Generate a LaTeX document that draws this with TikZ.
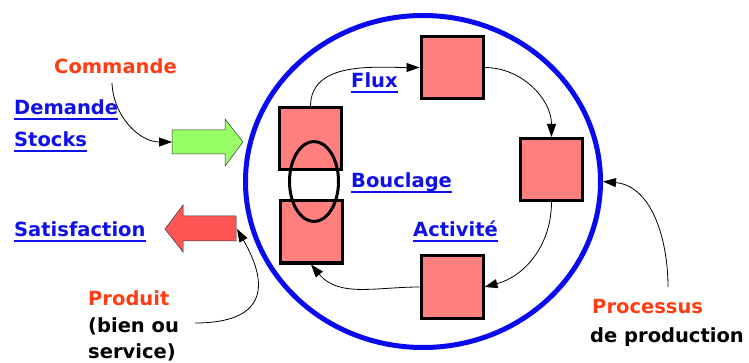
\documentclass[tikz,border=0pt]{standalone}
\usepackage{fontspec}
\setmainfont{DejaVu Sans}
\usetikzlibrary{arrows.meta,shapes.geometric}
\definecolor{ringblue}{HTML}{0A0AF0}
\definecolor{linkblue}{HTML}{1010E8}
\definecolor{hot}{HTML}{FF3D14}
\definecolor{boxfill}{HTML}{FF7F7F}
\definecolor{ingreen}{HTML}{99FF66}
\definecolor{outred}{HTML}{FF5555}
\begin{document}
\begin{tikzpicture}[x=1pt,y=1pt,
  lab/.style={inner sep=0pt, anchor=base west, font=\bfseries\fontsize{19.5}{22}\selectfont},
  link/.style={lab, text=linkblue},
  hotlab/.style={lab, text=hot},
  ul/.style={draw=linkblue, line width=2.2pt},
  unit/.style={draw=black, line width=3pt, fill=boxfill, minimum width=62pt, minimum height=62pt, inner sep=0pt},
  conn/.style={draw=black, line width=0.8pt, -{Triangle[length=13pt,width=9pt]}},
  blockarrow/.style={draw=black!80, line width=0.5pt}
]
\useasboundingbox (0,0) rectangle (749,-363);

% production process ring
\node[draw=ringblue, line width=5pt, ellipse, minimum width=355pt, minimum height=332pt, inner sep=0pt] (proc) at (423,-181.5) {};

% activity units
\node[unit] (b1) at (310.5,-139) {};
\node[unit] (b2) at (452,-67.5) {};
\node[unit] (b3) at (551.5,-169.5) {};
\node[unit] (b4) at (452,-287) {};
\node[unit] (b5) at (311,-232) {};

% loop-back ring joining the two left units
\node[draw=black, line width=3pt, ellipse, minimum width=49pt, minimum height=80pt, inner sep=0pt] (loop) at (314,-181.5) {};

% input and output block arrows
\filldraw[blockarrow, fill=ingreen] (172,-130) -- (225,-130) -- (225,-119) -- (243,-142) -- (225,-166) -- (225,-154) -- (172,-154) -- cycle;
\coordinate (inarrow) at (172,-142);
\filldraw[blockarrow, fill=outred] (236,-216) -- (183,-216) -- (183,-205) -- (165,-229) -- (183,-252) -- (183,-241) -- (236,-241) -- cycle;
\coordinate (outarrow) at (237,-229);

% labels
\node[hotlab] (commande) at (54,-74) {Commande};
\node[link] (demande) at (14,-115) {Demande};
\node[link] (stocks) at (14,-147) {Stocks};
\node[link] (satisf) at (14,-237) {Satisfaction};
\node[hotlab] (produit) at (88,-305) {Produit};
\node[lab] (bien) at (88,-332) {(bien ou};
\node[lab] (service) at (88,-358) {service)};
\node[link] (flux) at (351,-88) {Flux};
\node[link] (bouclage) at (351,-188) {Bouclage};
\node[link] (activite) at (413,-237) {Activité};
\node[hotlab] (processus) at (592,-313) {Processus};
\node[lab] (deprod) at (590,-342) {de production};

% underlines of the blue keywords
\foreach \n in {demande,stocks,satisf,flux,bouclage,activite}
  \draw[ul] ([yshift=-4pt]\n.base west) -- ([yshift=-4pt]\n.base east);

% flow between units
\draw[conn] (b1.north) to[out=90,in=180] (b2.west);
\draw[conn] (b2.east) to[out=0,in=90] (b3.north);
\draw[conn] (b3.south) to[out=-90,in=15] (b4.east);
\draw[conn] (b4.west) to[out=180,in=-50] (b5.south);

% annotation leaders
\coordinate (cmdtail) at (112,-83);
\draw[conn] (cmdtail) to[out=-88,in=180] (inarrow);
\coordinate (prodtail) at (195,-323);
\draw[conn] (prodtail) to[out=0,in=-60,looseness=1.7] (outarrow);
\coordinate (proctail) at (668,-287);
\draw[conn] (proctail) to[out=90,in=-5] (proc.east);
\end{tikzpicture}
\end{document}
